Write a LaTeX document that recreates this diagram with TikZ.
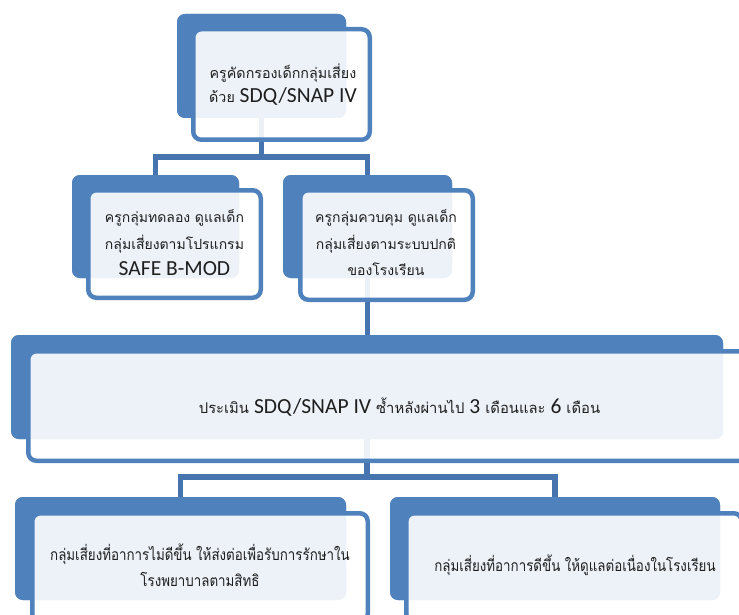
\documentclass[tikz,border=0pt]{standalone}
\usepackage{fontspec}
\setmainfont[Script=Thai]{Loma}
\newfontfamily\thaicond[Script=Thai,FakeStretch=0.85]{Loma}
\newfontfamily\lat{Carlito}
\definecolor{blueA}{HTML}{4F81BD}
\definecolor{blueC}{HTML}{4674AE}
\definecolor{txt}{HTML}{1E1E1E}
\newcommand{\latbig}[1]{{\lat\fontsize{21.5}{24}\selectfont #1}}
\begin{document}
\begin{tikzpicture}[x=1pt,y=-1pt,
  back/.style={fill=blueA, rounded corners=8pt, inner sep=0pt, draw=none},
  front/.style={draw=blueA, line width=4.5pt, fill=white, fill opacity=0.9, rounded corners=8pt, inner sep=0pt},
  conn/.style={draw=blueC, line width=5.5pt},
  lbl/.style={text=txt, align=center, inner sep=0pt}]
\useasboundingbox (0,0) rectangle (739,615);
\clip (0,0) rectangle (739,615);
% back shapes (positions)
\coordinate (p1) at (261.5,66);
\coordinate (p2) at (155.5,226.5);
\coordinate (p3) at (367.5,226.5);
\coordinate (p4) at (367,387);
\coordinate (p5) at (180.5,548.5);
\coordinate (p6) at (555,548.5);
\node[back, minimum width=169pt, minimum height=104pt] (b1) at (p1) {};
\node[back, minimum width=167pt, minimum height=103pt] (b2) at (p2) {};
\node[back, minimum width=169pt, minimum height=103pt] (b3) at (p3) {};
\node[back, minimum width=712pt, minimum height=104pt] (b4) at (p4) {};
\node[back, minimum width=331pt, minimum height=103pt] (b5) at (p5) {};
\node[back, minimum width=330pt, minimum height=103pt] (b6) at (p6) {};
% connectors (drawn under the front boxes)
\coordinate (j1) at (261.5,157);
\coordinate (j2) at (367,477);
\draw[conn] (b1.south) -- (j1);
\draw[conn] (b2.north) |- (j1);
\draw[conn] (b3.north) |- (j1);
\draw[conn] (b3.south) -- (b3.south |- b4.north);
\draw[conn] (b4.south) -- (j2);
\draw[conn] (b5.north) |- (j2);
\draw[conn] (b6.north) |- (j2);
% redraw back shapes over connector ends
\node[back, minimum width=169pt, minimum height=104pt] at (p1) {};
\node[back, minimum width=167pt, minimum height=103pt] at (p2) {};
\node[back, minimum width=169pt, minimum height=103pt] at (p3) {};
\node[back, minimum width=712pt, minimum height=104pt] at (p4) {};
\node[back, minimum width=331pt, minimum height=103pt] at (p5) {};
\node[back, minimum width=330pt, minimum height=103pt] at (p6) {};
% front boxes
\node[front, minimum width=176.5pt, minimum height=110.5pt] (f1) at (281.5,84.5) {};
\node[front, minimum width=172.5pt, minimum height=107.5pt] (f2) at (174.5,244) {};
\node[front, minimum width=172.5pt, minimum height=109.5pt] (f3) at (386.5,245) {};
\node[front, minimum width=720.5pt, minimum height=109.5pt] (f4) at (388.5,406) {};
\node[front, minimum width=335.5pt, minimum height=108.5pt] (f5) at (200,567.5) {};
\node[front, minimum width=335.5pt, minimum height=108.5pt] (f6) at (574,567.5) {};
% texts
\node[lbl, font=\fontsize{14.3}{24}\selectfont] (t1) at (283,85)
  {ครูคัดกรองเด็กกลุ่มเสี่ยง\\ด้วย \latbig{SDQ/SNAP IV}};
\node[lbl, font=\fontsize{14}{26.5}\selectfont] (t2) at (174.5,243)
  {ครูกลุ่มทดลอง ดูแลเด็ก\\กลุ่มเสี่ยงตามโปรแกรม\\\latbig{SAFE B-MOD}};
\node[lbl, font=\fontsize{14}{26.5}\selectfont] (t3) at (386,243)
  {ครูกลุ่มควบคุม ดูแลเด็ก\\กลุ่มเสี่ยงตามระบบปกติ\\ของโรงเรียน};
\node[lbl, font=\fontsize{14.8}{24}\selectfont] (t4) at (399.5,407)
  {ประเมิน \latbig{SDQ/SNAP IV} ซ้ำหลังผ่านไป \latbig{3} เดือนและ \latbig{6} เดือน};
\node[lbl, font=\thaicond\fontsize{15.7}{26}\selectfont] (t5) at (200,565)
  {กลุ่มเสี่ยงที่อาการไม่ดีขึ้น ให้ส่งต่อเพื่อรับการรักษาใน\\โรงพยาบาลตามสิทธิ};
\node[lbl, font=\thaicond\fontsize{15.7}{26}\selectfont] (t6) at (575,565)
  {กลุ่มเสี่ยงที่อาการดีขึ้น ให้ดูแลต่อเนื่องในโรงเรียน};
\end{tikzpicture}
\end{document}
